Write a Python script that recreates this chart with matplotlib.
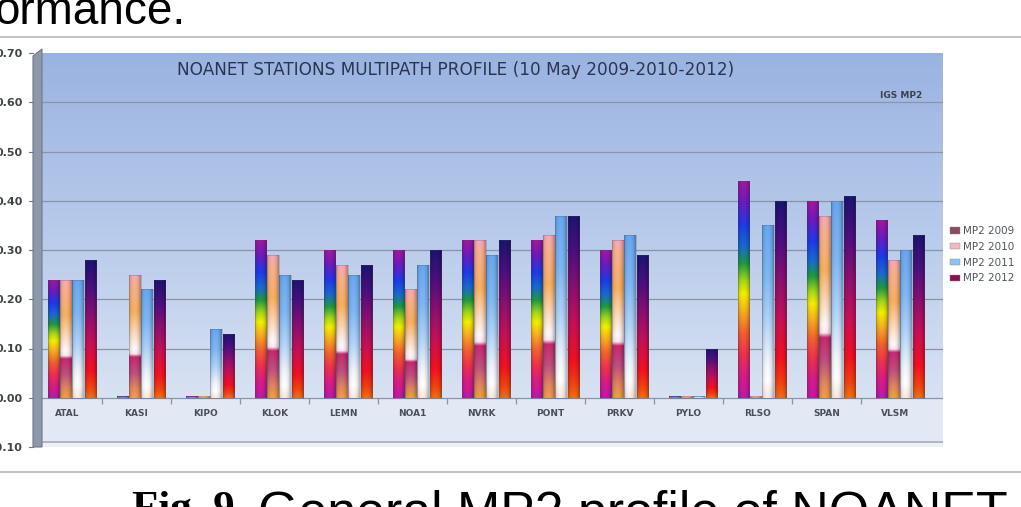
# NOANET stations multipath (MP2) profile, grouped gradient bars per station
import numpy as np
import matplotlib
matplotlib.use('Agg')
import matplotlib.pyplot as plt
from matplotlib.colors import to_rgb
from matplotlib.patches import Patch, Polygon
from matplotlib.lines import Line2D

stations = ['ATAL', 'KASI', 'KIPO', 'KLOK', 'LEMN', 'NOA1', 'NVRK',
            'PONT', 'PRKV', 'PYLO', 'RLSO', 'SPAN', 'VLSM']
years = ['MP2 2009', 'MP2 2010', 'MP2 2011', 'MP2 2012']

mp2_2009 = [0.24, 0.004, 0.004, 0.32, 0.30, 0.30, 0.32, 0.32, 0.30, 0.004, 0.44, 0.40, 0.36]
mp2_2010 = [0.24, 0.25, 0.003, 0.29, 0.27, 0.22, 0.32, 0.33, 0.32, 0.003, 0.003, 0.37, 0.28]
mp2_2011 = [0.24, 0.22, 0.14, 0.25, 0.25, 0.27, 0.29, 0.37, 0.33, 0.003, 0.35, 0.40, 0.30]
mp2_2012 = [0.28, 0.24, 0.13, 0.24, 0.27, 0.30, 0.32, 0.37, 0.29, 0.10, 0.40, 0.41, 0.33]
series = [mp2_2009, mp2_2010, mp2_2011, mp2_2012]

yticks = [-0.10, 0.00, 0.10, 0.20, 0.30, 0.40, 0.50, 0.60, 0.70]

# colour stops from top (0) to bottom (1) of each bar
stops = [
    [(0, '#a3179f'), (0.1, '#6a1cc0'), (0.2, '#1e3ae8'), (0.3, '#1a6ad0'), (0.38, '#1e9a40'),
     (0.46, '#a8d818'), (0.52, '#f4f000'), (0.6, '#f8b020'), (0.7, '#f46030'),
     (0.8, '#f03050'), (0.9, '#d81c88'), (1.0, '#c018a8')],
    [(0, '#f8a8b8'), (0.08, '#f8b090'), (0.3, '#f8b060'), (0.5, '#fce0c8'), (0.6, '#fff8f8'),
     (0.645, '#ffe8f0'), (0.67, '#c82870'), (0.8, '#c05080'), (0.92, '#e08860'), (1.0, '#f0a040')],
    [(0, '#68a8f0'), (0.3, '#80b8f4'), (0.55, '#b0d4f8'), (0.8, '#f2f6fc'), (0.9, '#ffffff'),
     (1.0, '#f8e8e0')],
    [(0, '#1c1470'), (0.2, '#4c1080'), (0.4, '#8c1070'), (0.6, '#c81058'), (0.8, '#f41020'),
     (0.92, '#f44010'), (1.0, '#f07010')],
]
legend_colors = ['#8a4a62', '#f4b8c0', '#8cc4f0', '#8a1050']

W, H = 1021, 507


def gradient(stop_list, n=200):
    """Build a vertical colour ramp from (position, colour) stops"""
    pos = np.array([s[0] for s in stop_list])
    cols = np.array([to_rgb(s[1]) for s in stop_list])
    t = np.linspace(0, 1, n)
    return np.stack([np.interp(t, pos, cols[:, k]) for k in range(3)], axis=1)


def cylinder_image(stop_list):
    """Vertical ramp shaded across the width so the bar looks round"""
    ramp = gradient(stop_list)
    u = np.linspace(0, 1, 40)
    shade = 0.74 + 0.26 * np.sin(np.pi * np.clip(u * 1.1, 0, 1)) ** 0.5
    img = ramp[:, None, :] * shade[None, :, None]
    return np.clip(img, 0, 1)


def px(x, y):
    return (x / W, 1 - y / H)


fig = plt.figure(figsize=(W / 100, H / 100), dpi=100)
fig.patch.set_facecolor('white')

ax = fig.add_axes([42 / W, 1 - 447 / H, 901 / W, 394 / H])
x = np.arange(len(stations))
xlo, xhi = -30 / 69, 871 / 69

# back wall and floor
wall = gradient([(0, '#98b2e0'), (0.5, '#b6c9ea'), (1, '#d8e2f2')])
ax.imshow(wall[:, None, :], extent=[xlo, xhi, 0, 0.72], aspect='auto', zorder=0)
ax.axhspan(-0.10, 0.0, color='#e2e8f4', zorder=0)
ax.axhspan(-0.10, -0.09, color='#eef0f4', zorder=1)
ax.axhline(-0.09, color='#a4acb8', lw=1.2, zorder=1)
for v in yticks[1:-1]:
    ax.axhline(v, color='#8a94a6', lw=0.9, zorder=1)

# grouped bars with gradient fill
bw = 0.17
offsets = np.array([-1.5, -0.5, 0.5, 1.5]) * 0.18
for s, vals in enumerate(series):
    bars = ax.bar(x + offsets[s], vals, width=bw, facecolor='none',
                  edgecolor=(0.3, 0.3, 0.4, 0.35), lw=0.5, zorder=4)
    img = cylinder_image(stops[s])
    for b in bars:
        bx, bh = b.get_x(), b.get_height()
        im = ax.imshow(img, extent=[bx, bx + bw, 0, bh], aspect='auto',
                       interpolation='bilinear', zorder=3)
        im.set_clip_path(b)

# group separators and category labels on the floor
ax.vlines(x[:-1] + 0.5 - 0.065, -0.012, 0.0, color='#8a94a6', lw=0.9, zorder=2)
for i, name in enumerate(stations):
    ax.text(i - 0.065, -0.032, name, ha='center', va='center', fontsize=6.5,
            fontweight='bold', color='#4a4f5a', zorder=5)

ax.set_xlim(xlo, xhi)
ax.set_ylim(-0.10, 0.70)
ax.set_xticks([])
ax.set_yticks(yticks)
ax.set_yticklabels(['%.2f' % v for v in yticks], fontsize=8, fontweight='bold', color='#404448')
ax.tick_params(axis='y', length=0, pad=14)
for sp in ax.spines.values():
    sp.set_visible(False)

ax.text(0.4595, 0.957, 'NOANET STATIONS MULTIPATH PROFILE (10 May 2009-2010-2012)',
        transform=ax.transAxes, ha='center', va='center', fontsize=12.2,
        family='DejaVu Sans', color='#2c3550')
ax.text(0.9767, 0.891, 'IGS MP2', transform=ax.transAxes, ha='right', va='center',
        fontsize=6.5, fontweight='bold', color='#3a4150')

# left side wall of the 3D chart
fig.add_artist(Polygon([px(33, 56), px(42, 49), px(42, 447), px(33, 447)],
                       closed=True, facecolor='#8d98aa', edgecolor='#6e7888', lw=0.8,
                       transform=fig.transFigure))
for v in yticks:
    yy = 1 - (447 - (v + 0.10) * 492.5) / H
    fig.add_artist(Line2D([29 / W, 33 / W], [yy, yy], color='#6e7888', lw=0.8))

# legend
handles = [Patch(facecolor=c, edgecolor='#888888', lw=0.3) for c in legend_colors]
fig.legend(handles, years, loc='upper left', bbox_to_anchor=(945 / W, 1 - 221 / H),
           frameon=False, fontsize=7.5, labelcolor='#505560', handlelength=0.9,
           handleheight=0.55, handletextpad=0.35, labelspacing=0.55, borderpad=0)

# surrounding page
fig.add_artist(Line2D([0, 1], [1 - 37 / H] * 2, color='#c4c4c4', lw=1.5))
fig.add_artist(Line2D([0, 1], [1 - 472 / H] * 2, color='#c4c4c4', lw=1.5))
fig.text(-6 / W, 1 - 24 / H, 'ormance.', fontsize=33, family='Liberation Sans',
         va='baseline', ha='left', color='black')
fig.text(132 / W, 1 - 520 / H, 'Fig. 9.', fontsize=31, family='Liberation Serif',
         fontweight='bold', va='baseline', ha='left', color='black')
fig.text(258 / W, 1 - 528 / H, 'General MP2 profile of NOANET', fontsize=37.4,
         family='Liberation Sans', va='baseline', ha='left', color='black')

fig.savefig('out.png', dpi=100)
